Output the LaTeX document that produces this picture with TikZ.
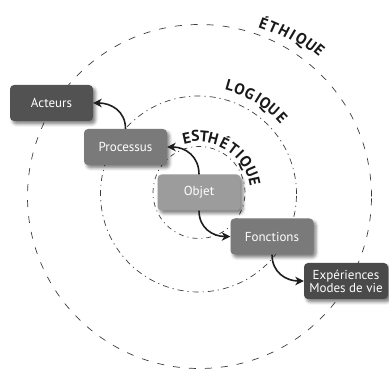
\documentclass[tikz,border=0pt]{standalone}
\usepackage{fontspec}
\setmainfont{PT Sans}
\usetikzlibrary{arrows.meta,shadows.blur}
\definecolor{boxdark}{HTML}{525252}
\definecolor{boxmid}{HTML}{7A7A7A}
\definecolor{boxlight}{HTML}{9C9C9C}
\definecolor{boxdarker}{HTML}{4A4A4A}
\definecolor{ringcol}{HTML}{3C3C3C}
\definecolor{arrowcol}{HTML}{1E1E1E}
\begin{document}
\begin{tikzpicture}[x=1pt,y=1pt,
  box/.style={rounded corners=4pt, minimum width=83pt, minimum height=36pt,
    text=white, font=\fontsize{13}{13}\selectfont, align=center, inner sep=2pt,
    blur shadow={shadow xshift=2.5pt, shadow yshift=-3pt, shadow blur radius=3pt, shadow opacity=50}},
  ring/.style={draw=ringcol, line width=0.7pt},
  flow/.style={draw=arrowcol, line width=1.6pt, -{Stealth[length=8.5pt,width=8.5pt,inset=2.5pt]}},
  lbl/.style={font=\fontsize{15.5}{15.5}\selectfont\bfseries, anchor=base, inner sep=0pt, text=black!90}
]
\useasboundingbox (0,0) rectangle (389,375);
\coordinate (C) at (199,181);
% rings
\draw[ring, dash pattern=on 7pt off 9pt] (199.5,178.5) circle[radius=172];
\draw[ring, dash pattern=on 6pt off 4pt on 1.2pt off 4pt] (198.5,181) circle[radius=98];
\draw[ring, dash pattern=on 5pt off 4pt on 1pt off 4pt] (199,182.5) circle[radius=46];
% ring labels
\foreach \ch/\a/\r [count=\i] in {É/69.2/176.4, T/66.0/177.4, H/62.4/178.4, I/59.6/179.2, Q/56.5/180.2, U/53.1/181.2, E/50.1/182.2}
  \node[lbl, rotate=\a-90] (eth\i) at ([shift={(\a:\r)}]C) {\ch};
\foreach \ch/\a [count=\i] in {L/74.1, O/68.8, G/63.1, I/58.2, Q/54, U/48.5, E/42.5}
  \node[lbl, rotate=\a-90] (log\i) at ([shift={(\a:107.1)}]C) {\ch};
\foreach \ch/\a/\r [count=\i] in {E/102.5/51.8, S/93.6/52.4, T/84.8/52.4, H/75.4/52, É/63.4/51.6, T/53.0/51.6, I/44.3/51.6, Q/35/51.6, U/23.2/51.6, E/12.5/51.4}
  \node[lbl, rotate=\a-90] (est\i) at ([shift={(\a:\r)}]C) {\ch};
% boxes
\node[box, fill=boxdark] (act) at (51.5,272) {Acteurs};
\node[box, fill=boxmid] (proc) at (125.5,228) {Processus};
\node[box, fill=boxlight] (obj) at (199,182.5) {Objet};
\node[box, fill=boxmid] (fonc) at (272,138.5) {Fonctions};
\node[box, fill=boxdarker, minimum width=84pt] (exp) at (346,94) {Expériences\\Modes de vie};
% arrows
\draw[flow] (obj.north) to[out=90, in=0, looseness=1.1] (proc.east);
\draw[flow] (proc.north) to[out=90, in=0, looseness=1.1] (act.east);
\draw[flow] (obj.south) to[out=-90, in=180, looseness=1.1] (fonc.west);
\draw[flow] (fonc.south) to[out=-90, in=180, looseness=1.1] (exp.west);
\end{tikzpicture}
\end{document}
